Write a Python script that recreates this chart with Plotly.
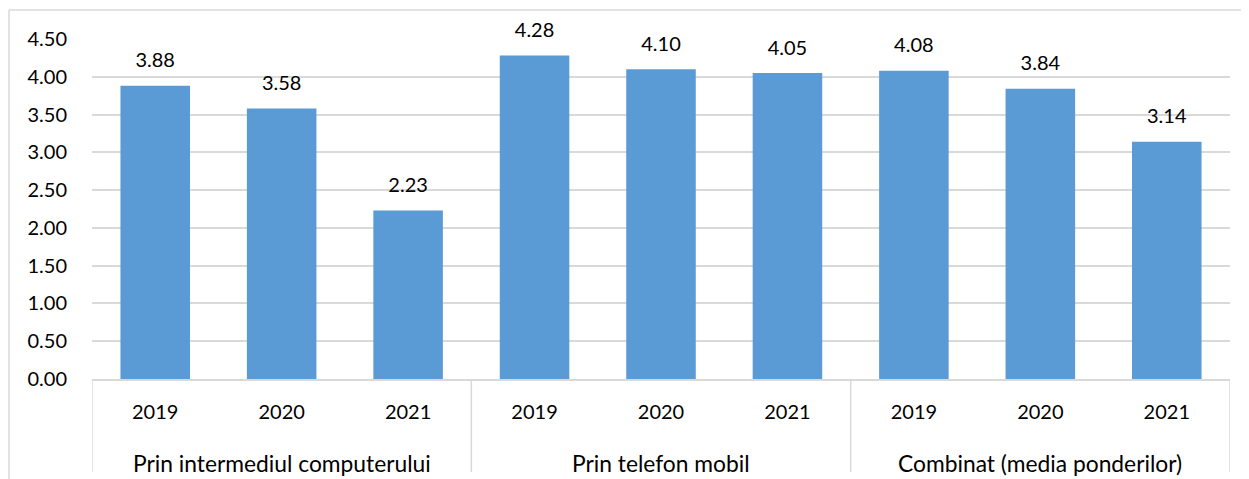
import plotly.graph_objects as go

group_names = ["Prin intermediul computerului", "Prin telefon mobil", "Combinat (media ponderilor)"]
years = ["2019", "2020", "2021"]
values = [3.88, 3.58, 2.23, 4.28, 4.10, 4.05, 4.08, 3.84, 3.14]
labels = [f"{v:.2f}" for v in values]

FONT = "Lato"
GRID = "#D9D9D9"

n_years = len(years)
xs = list(range(len(values)))
tick_text = years * len(group_names)

fig = go.Figure()
fig.add_trace(go.Bar(
    x=xs, y=values, width=0.55,
    marker=dict(color="#5B9BD5", line=dict(width=0)),
    hoverinfo="skip",
))
fig.add_trace(go.Scatter(
    x=xs, y=values, text=labels,
    mode="markers+text", textposition="top center",
    marker=dict(size=20, opacity=0),
    textfont=dict(family=FONT, size=20, color="#000000"),
    cliponaxis=False,
    hoverinfo="skip", showlegend=False,
))

# page body has an 8px margin; the figure is placed at (8, 8)
OFF = 8
W, H = 1249 - OFF, 479 - OFF
L, R, T, B = 92 - OFF, 19, 39 - OFF, 100
pw, ph = W - L - R, H - T - B

def px(x):
    return (x - OFF - L) / pw

def py(y):
    return (H - B - (y - OFF)) / ph

shapes = [
    dict(type="line", xref="paper", yref="paper",
         x0=px(9), x1=px(1260), y0=py(10), y1=py(10),
         line=dict(color=GRID, width=1.5)),
    dict(type="line", xref="paper", yref="paper",
         x0=px(9), x1=px(9), y0=py(10), y1=py(490),
         line=dict(color=GRID, width=1.5)),
]
for g in range(len(group_names) + 1):
    xb = g * n_years - 0.5
    shapes.append(dict(type="line", xref="x", yref="paper",
                       x0=xb, x1=xb, y0=0, y1=py(472),
                       line=dict(color=GRID, width=1.5)))

annotations = []
for g, name in enumerate(group_names):
    annotations.append(dict(
        x=g * n_years + (n_years - 1) / 2, xref="x",
        y=py(463), yref="paper", yanchor="middle", xanchor="center",
        text=name, showarrow=False,
        font=dict(family=FONT, size=22.8, color="#000000"),
    ))

fig.update_layout(
    width=W, height=H,
    margin=dict(l=L, r=R, t=T, b=B),
    paper_bgcolor="white", plot_bgcolor="white",
    showlegend=False,
    font=dict(family=FONT, size=20, color="#000000"),
    xaxis=dict(
        range=[-0.5, len(values) - 0.5],
        tickvals=xs, ticktext=tick_text,
        showline=True, linecolor=GRID, linewidth=1.5,
        showgrid=False, zeroline=False,
        ticks="outside", ticklen=0, ticklabelstandoff=14,
        automargin=False,
        tickfont=dict(family=FONT, size=20, color="#000000"),
    ),
    yaxis=dict(
        range=[0, 4.5], dtick=0.5, tickformat=".2f",
        showgrid=True, gridcolor=GRID, gridwidth=1.5,
        zeroline=False, showline=False, ticks="",
        ticklabelstandoff=24, automargin=False,
        tickfont=dict(family=FONT, size=20, color="#000000"),
    ),
    shapes=shapes,
    annotations=annotations,
)

fig.write_html("out.html")
